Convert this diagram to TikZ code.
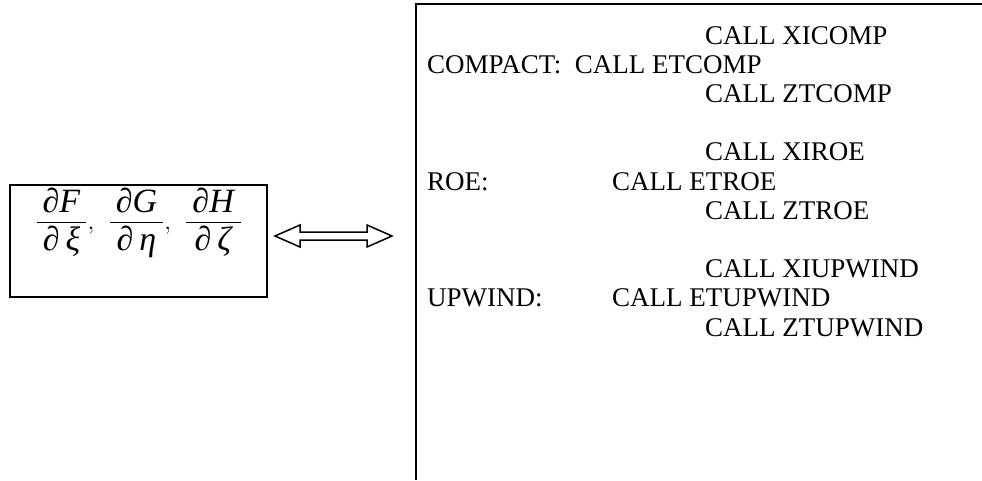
\documentclass[tikz,border=0pt]{standalone}
\usepackage{amsmath}
\usepackage{fontspec}
\setmainfont{Liberation Serif}
\usetikzlibrary{calc}
\newcommand{\pfr}[2]{\dfrac{\hspace{6pt}\text{∂\textit{#1}}\hspace{6pt}}{\hspace{6pt}\text{∂\hspace{6pt}\textit{#2}}\hspace{6pt}}}
\begin{document}
\begin{tikzpicture}[x=1pt,y=-1pt,
  codetext/.style={anchor=base west,inner sep=0pt,font=\fontsize{27}{31}\selectfont},
  boxline/.style={draw=black,line width=1.6pt},
  arrowline/.style={draw=black,line width=1.5pt,fill=white,line join=miter}]
\useasboundingbox (0,0) rectangle (982,480);
% left box
\node[boxline,minimum width=257pt,minimum height=112pt,inner sep=0pt] (lbox) at (138.5,241) {};
\node[inner sep=0pt,font=\fontsize{34}{38}\selectfont] (frac) at (139,223)
  {$\pfr{F}{ξ},\hspace{10pt}\pfr{G}{η},\hspace{10pt}\pfr{H}{ζ}$};
% right box (open at right and bottom)
\coordinate (rtr) at (982,4);
\coordinate (rtl) at (416,4);
\coordinate (rbl) at (416,480);
\draw[line width=2pt] (rtr) -- (rtl) -- (rbl);
% double arrow
\coordinate (aL) at (275,236);
\coordinate (aR) at (392,236);
\draw[arrowline] (aL) -- ++(25,-11) -- ++(0,7) -- ($(aR)+(-25,-4)$) -- ++(0,-7) -- (aR)
  -- ++(-25,11) -- ++(0,-7) -- ($(aL)+(25,4)$) -- ++(0,7) -- cycle;
% code text
\node[codetext] (t1) at (705,44.0) {CALL XICOMP};
\node[codetext] (t2) at (427,73.2) {COMPACT:\ \ CALL ETCOMP};
\node[codetext] (t3) at (705,102.4) {CALL ZTCOMP};
\node[codetext] (t4) at (705,160.8) {CALL XIROE};
\node[codetext] (t5a) at (427,190) {ROE:};
\node[codetext] (t5b) at (612,190) {CALL ETROE};
\node[codetext] (t6) at (705,219.2) {CALL ZTROE};
\node[codetext] (t7) at (705,277.6) {CALL XIUPWIND};
\node[codetext] (t8a) at (427,306.8) {UPWIND:};
\node[codetext] (t8b) at (612,306.8) {CALL ETUPWIND};
\node[codetext] (t9) at (705,336) {CALL ZTUPWIND};
\end{tikzpicture}
\end{document}
